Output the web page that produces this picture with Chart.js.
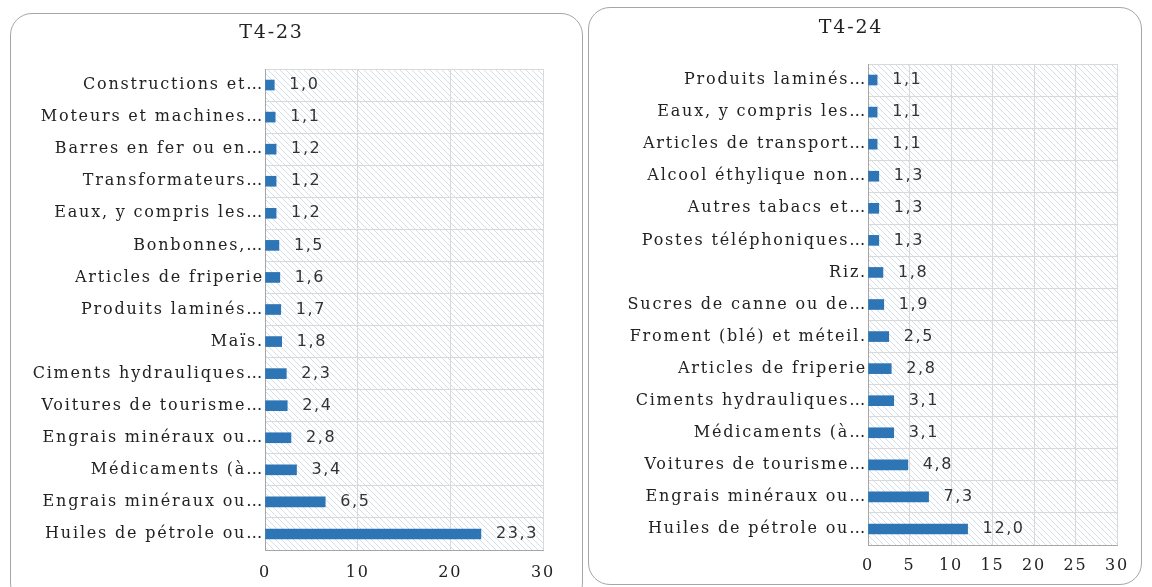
<!DOCTYPE html>
<html>
<head>
<meta charset="utf-8">
<script src="https://cdn.jsdelivr.net/npm/chart.js@4.4.1/dist/chart.umd.min.js"></script>
<style>
body{margin:0;background:#fff;width:1152px;height:587px;overflow:hidden;position:relative;}
.panel{position:absolute;border:1px solid #a6a6a6;border-radius:22px;}
.wrap{position:absolute;}
</style>
</head>
<body>

<div class="panel" style="left:10px;top:13px;width:571px;height:590px;"></div>
<div class="panel" style="left:588px;top:7px;width:552px;height:576px;"></div>

<div class="wrap" style="left:0;top:0;width:585px;height:587px;"><canvas id="chart23"></canvas></div>
<div class="wrap" style="left:585px;top:0;width:567px;height:587px;"><canvas id="chart24"></canvas></div>

<script>

// ------------------------------
// Data
// ------------------------------

const labels23 = [
    "Constructions et…",
    "Moteurs et machines…",
    "Barres en fer ou en…",
    "Transformateurs…",
    "Eaux, y compris les…",
    "Bonbonnes,…",
    "Articles de friperie",
    "Produits laminés…",
    "Maïs.",
    "Ciments hydrauliques…",
    "Voitures de tourisme…",
    "Engrais minéraux ou…",
    "Médicaments (à…",
    "Engrais minéraux ou…",
    "Huiles de pétrole ou…"
];
const values23 = [1.0,1.1,1.2,1.2,1.2,1.5,1.6,1.7,1.8,2.3,2.4,2.8,3.4,6.5,23.3];

const labels24 = [
    "Produits laminés…",
    "Eaux, y compris les…",
    "Articles de transport…",
    "Alcool éthylique non…",
    "Autres tabacs et…",
    "Postes téléphoniques…",
    "Riz.",
    "Sucres de canne ou de…",
    "Froment (blé) et méteil.",
    "Articles de friperie",
    "Ciments hydrauliques…",
    "Médicaments (à…",
    "Voitures de tourisme…",
    "Engrais minéraux ou…",
    "Huiles de pétrole ou…"
];
const values24 = [1.1,1.1,1.1,1.3,1.3,1.3,1.8,1.9,2.5,2.8,3.1,3.1,4.8,7.3,12.0];

const ticks23 = [0,10,20,30];
const ticks24 = [0,5,10,15,20,25,30];

// ------------------------------
// Hatched plot background + letter spacing
// ------------------------------

function makeHatch(){
    const c = document.createElement("canvas");
    c.width = 6; c.height = 6;
    const g = c.getContext("2d");
    g.strokeStyle = "rgba(160,185,210,0.45)";
    g.lineWidth = 1;
    g.beginPath();
    g.moveTo(0,0); g.lineTo(6,6);
    g.moveTo(-3,3); g.lineTo(3,9);
    g.moveTo(3,-3); g.lineTo(9,3);
    g.stroke();
    return c;
}

const hatchPlugin = {
    id:"hatch",
    beforeDraw:function(chart){
        const a = chart.chartArea;
        const ctx = chart.ctx;
        ctx.save();
        ctx.fillStyle = ctx.createPattern(makeHatch(),"repeat");
        ctx.fillRect(a.left,a.top,a.right-a.left,a.bottom-a.top);
        ctx.restore();
        ctx.letterSpacing = "1.8px";
    },
    afterDraw:function(chart){
        chart.ctx.letterSpacing = "0px";
    }
};

// ------------------------------
// Value labels
// ------------------------------

const valuePlugin = {
    id:"values",
    afterDatasetsDraw:function(chart){
        const ctx = chart.ctx;
        const meta = chart.getDatasetMeta(0);
        const data = chart.data.datasets[0].data;
        ctx.save();
        ctx.font = "16px 'DejaVu Sans'";
        ctx.letterSpacing = "1.6px";
        ctx.fillStyle = "#333";
        ctx.textAlign = "left";
        ctx.textBaseline = "middle";
        meta.data.forEach(function(bar,i){
            ctx.fillText(data[i].toFixed(1).replace(".",","), bar.x + 15, bar.y);
        });
        ctx.restore();
    }
};

// ------------------------------
// Build chart
// ------------------------------

function buildChart(id,title,labels,values,tickList,box){

    return new Chart(document.getElementById(id),{

        type:"bar",

        data:{
            labels:labels,
            datasets:[{
                data:values,
                backgroundColor:"#2E75B6",
                barThickness:10
            }]
        },

        options:{
            responsive:true,
            maintainAspectRatio:false,
            animation:false,
            indexAxis:"y",
            layout:{
                padding:{left:0,right:box.right,top:0,bottom:0}
            },
            plugins:{
                legend:{display:false},
                tooltip:{enabled:false},
                title:{
                    display:true,
                    text:title,
                    color:"#222",
                    font:{family:"'DejaVu Serif'",size:19,weight:"normal",lineHeight:1.2},
                    padding:{top:box.titleTop,bottom:box.top - box.titleTop - 22.8}
                }
            },
            scales:{
                x:{
                    min:0,
                    max:30,
                    afterBuildTicks:function(s){
                        s.ticks = tickList.map(function(v){ return {value:v}; });
                    },
                    afterFit:function(s){ s.height = box.axisH; },
                    grid:{color:"#d9d9d9",drawTicks:false},
                    border:{color:"#a6a6a6"},
                    ticks:{
                        color:"#222",
                        padding:box.tickPad,
                        font:{family:"'DejaVu Serif'",size:16}
                    }
                },
                y:{
                    afterFit:function(s){ s.width = box.left; },
                    grid:{color:"#d9d9d9",drawTicks:false,offset:true},
                    border:{color:"#a6a6a6"},
                    ticks:{
                        color:"#222",
                        padding:1,
                        autoSkip:false,
                        font:{family:"'DejaVu Serif'",size:16}
                    }
                }
            }
        },

        plugins:[hatchPlugin,valuePlugin]

    });

}

buildChart("chart23","T4-23",labels23,values23,ticks23,
    {left:265,right:42,top:69,titleTop:22,axisH:37,tickPad:13});

buildChart("chart24","T4-24",labels24,values24,ticks24,
    {left:283,right:35,top:64,titleTop:17,axisH:42,tickPad:11});

</script>
</body>
</html>
